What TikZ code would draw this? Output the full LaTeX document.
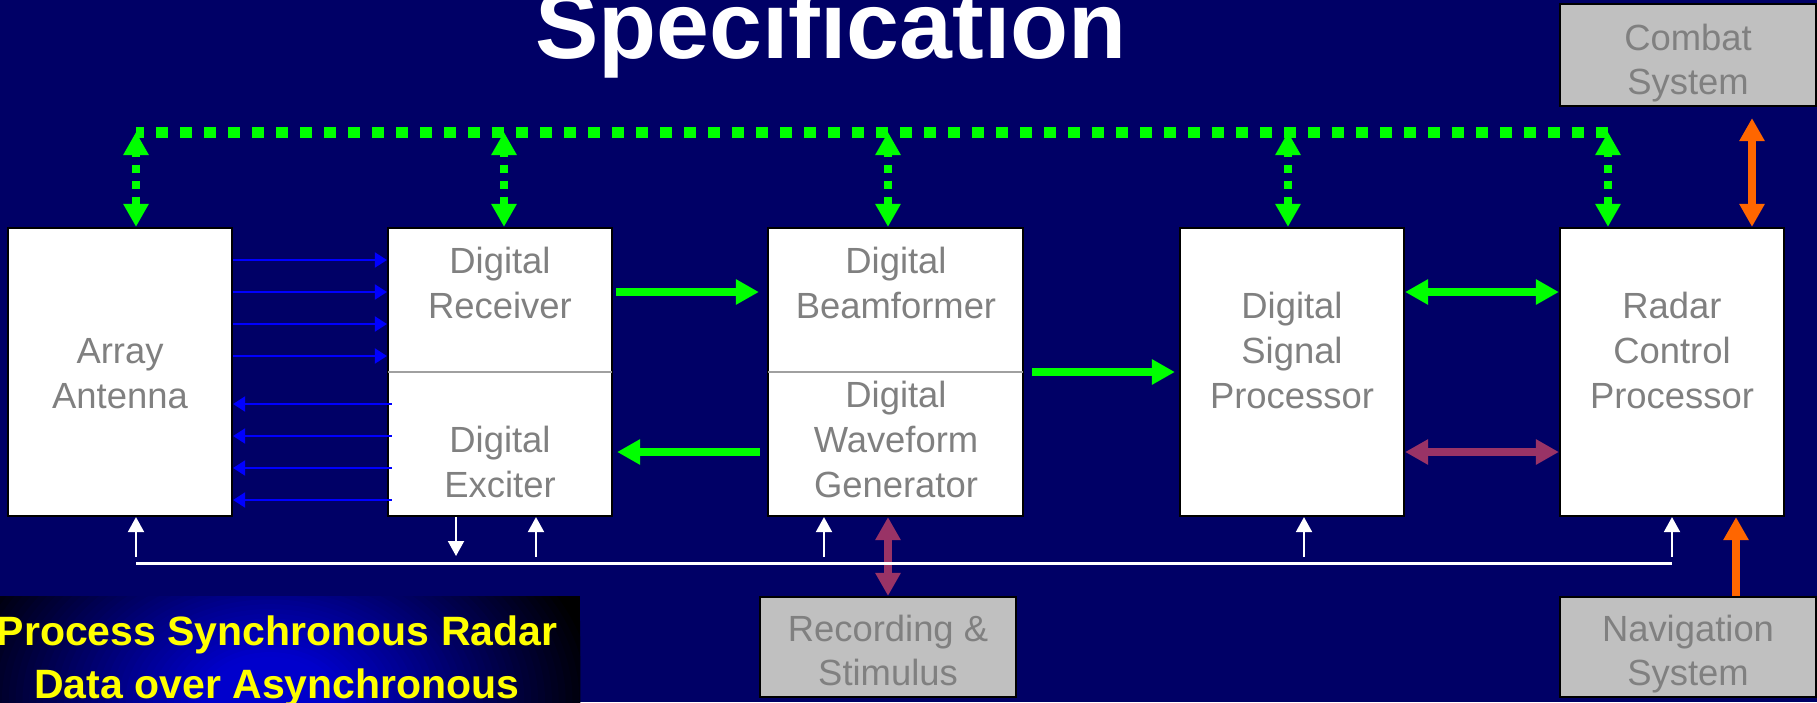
\documentclass[tikz,border=0pt]{standalone}
\usepackage{fontspec}
\setmainfont{Liberation Sans}
\usetikzlibrary{arrows.meta,calc}
\definecolor{bgnavy}{HTML}{000066}
\definecolor{txtgray}{HTML}{808080}
\definecolor{boxgray}{HTML}{C0C0C0}
\definecolor{divgray}{HTML}{A0A0A0}
\definecolor{arrgreen}{HTML}{00FF00}
\definecolor{arrorange}{HTML}{FF6600}
\definecolor{arrmaroon}{HTML}{993366}
\definecolor{arrblue}{HTML}{0000FF}
\definecolor{glowblue}{HTML}{0000CC}
\definecolor{ttlyellow}{HTML}{FFFF00}
\tikzset{
  wbox/.style={draw=black, line width=2.2pt, fill=white, inner sep=0pt},
  gbox/.style={draw=black, line width=2.2pt, fill=boxgray, inner sep=0pt},
  lbl/.style={text=txtgray, font=\fontsize{36.4}{45}\selectfont, align=center, inner sep=0pt, anchor=base},
  lblb/.style={text=txtgray, font=\fontsize{36.4}{43.5}\selectfont, align=center, inner sep=0pt, anchor=base},
  gtip/.tip={Triangle[length=23pt,width=24pt]},
  garr/.style={draw=arrgreen, line width=8pt, -gtip},
  gdbl/.style={draw=arrgreen, line width=8pt, gtip-gtip},
  mdbl/.style={draw=arrmaroon, line width=8pt, gtip-gtip},
  odbl/.style={draw=arrorange, line width=8pt, gtip-gtip},
  oarr/.style={draw=arrorange, line width=8pt, -gtip},
  gbus/.style={draw=arrgreen, line width=11pt, dash pattern=on 12pt off 12pt, dash phase=4pt},
  gvert/.style={draw=arrgreen, line width=8pt, dash pattern=on 8pt off 8pt, dash phase=5pt, gtip-gtip},
  barr/.style={draw=arrblue, line width=2pt, -{Triangle[length=12pt,width=15pt]}},
  wline/.style={draw=white, line width=2.5pt},
  warr/.style={draw=white, line width=2pt, -{Triangle[length=15pt,width=16pt]}},
}
\begin{document}
\begin{tikzpicture}[x=1pt,y=-1pt]
\useasboundingbox (0,0) rectangle (1817,702);
\fill[bgnavy] (0,0) rectangle (1817,702);
% title
\node[text=white, font=\fontsize{95}{100}\selectfont\bfseries, anchor=base, inner sep=0pt] (title) at (831,58) {Specification};
% bottom-left note panel (radial glow, blue centre to black edges)
\begin{scope}
  \clip (-26,596) rectangle (580,790);
  \fill[black] (-26,596) rectangle (580,790);
  \foreach \i in {0,...,48} {
    \pgfmathsetmacro{\ff}{1-\i/48}
    \pgfmathsetmacro{\pc}{min(100,125*(1-\ff))}
    \fill[glowblue!\pc!black] (270,700) ellipse ({330*\ff} and {230*\ff});
  }
\end{scope}
\node[text=ttlyellow, font=\fontsize{41}{53}\selectfont\bfseries, align=center, anchor=base, inner sep=0pt] (note) at (277,698) {Process Synchronous Radar\\Data over Asynchronous};
% boxes
\node[wbox, minimum width=224pt, minimum height=288pt] (ant) at (120,372) {};
\node[wbox, minimum width=224pt, minimum height=288pt] (rx) at (500,372) {};
\node[wbox, minimum width=255pt, minimum height=288pt] (bw) at (895.5,372) {};
\node[wbox, minimum width=224pt, minimum height=288pt] (dsp) at (1292,372) {};
\node[wbox, minimum width=224pt, minimum height=288pt] (rcp) at (1672,372) {};
\node[gbox, minimum width=256pt, minimum height=102pt] (cmb) at (1688,55) {};
\node[gbox, minimum width=256pt, minimum height=100pt] (nav) at (1688,647) {};
\node[gbox, minimum width=256pt, minimum height=100pt] (rec) at (888,647) {};
\draw[divgray, line width=2pt, shorten <=1pt, shorten >=1pt] (rx.west) -- (rx.east);
\draw[divgray, line width=2pt, shorten <=1pt, shorten >=1pt] (bw.west) -- (bw.east);
% labels (anchor = baseline of last line)
\node[lbl] (t-ant) at (120,408) {Array\\Antenna};
\node[lbl] (t-rec) at (500,318) {Digital\\Receiver};
\node[lbl] (t-exc) at (500,497) {Digital\\Exciter};
\node[lbl] (t-bf) at (896,318) {Digital\\Beamformer};
\node[lbl] (t-wg) at (896,497) {Digital\\Waveform\\Generator};
\node[lbl] (t-dsp) at (1292,408) {Digital\\Signal\\Processor};
\node[lbl] (t-rcp) at (1672,408) {Radar\\Control\\Processor};
\node[lblb] (t-cmb) at (1688,94) {Combat\\System};
\node[lblb] (t-nav) at (1688,685) {Navigation\\System};
\node[lblb] (t-rs) at (888,685) {Recording \&\\Stimulus};
% green dotted bus
\coordinate (busL) at (136,132);
\coordinate (busR) at (1608,132);
\draw[gbus] (busL) -- (busR);
\coordinate (b1) at (136,132);
\coordinate (b2) at (504,132);
\coordinate (b3) at (888,132);
\coordinate (b4) at (1288,132);
\coordinate (b5) at (1608,132);
\draw[gvert] (b1) -- (b1 |- ant.north);
\draw[gvert] (b2) -- (b2 |- rx.north);
\draw[gvert] (b3) -- (b3 |- bw.north);
\draw[gvert] (b4) -- (b4 |- dsp.north);
\draw[gvert] (b5) -- (b5 |- rcp.north);
% blue antenna links
\foreach \yy in {260,292,324,356}
  \draw[barr] (ant.east |- 0,\yy) -- (rx.west |- 0,\yy);
\foreach \yy in {404,436,468,500}
  \draw[barr, shorten <=-5pt] (rx.west |- 0,\yy) -- (ant.east |- 0,\yy);
% green solid arrows
\draw[garr, shorten <=3pt, shorten >=8pt] (rx.east |- 0,292) -- (bw.west |- 0,292);
\draw[garr, shorten <=7pt, shorten >=4pt] (bw.west |- 0,452) -- (rx.east |- 0,452);
\draw[garr, shorten <=8pt, shorten >=4pt] (bw.east |- 0,372) -- (dsp.west |- 0,372);
\draw[gdbl] (dsp.east |- 0,292) -- (rcp.west |- 0,292);
\draw[mdbl] (dsp.east |- 0,452) -- (rcp.west |- 0,452);
% maroon recording link
\draw[mdbl] (rec.north |- bw.south) -- (rec.north);
% orange links
\coordinate (oc) at (1752,0);
\coordinate (on) at (1736,0);
\draw[odbl, shorten <=11pt] (oc |- cmb.south) -- (oc |- rcp.north);
\draw[oarr] (on |- nav.north) -- (on |- rcp.south);
% white timing bus
\coordinate (wbL) at (136,563.5);
\coordinate (wbR) at (1672,563.5);
\draw[wline] (wbL) -- (wbR);
\coordinate (w1) at (136,557);
\coordinate (w2) at (456,556);
\coordinate (w3) at (536,557);
\coordinate (w4) at (824,557);
\coordinate (w5) at (1304,557);
\coordinate (w6) at (1672,557);
\draw[warr] (w1) -- (w1 |- ant.south);
\draw[warr] (w2 |- rx.south) -- (w2);
\draw[warr] (w3) -- (w3 |- rx.south);
\draw[warr] (w4) -- (w4 |- bw.south);
\draw[warr] (w5) -- (w5 |- dsp.south);
\draw[warr] (w6) -- (w6 |- rcp.south);
\end{tikzpicture}
\end{document}
